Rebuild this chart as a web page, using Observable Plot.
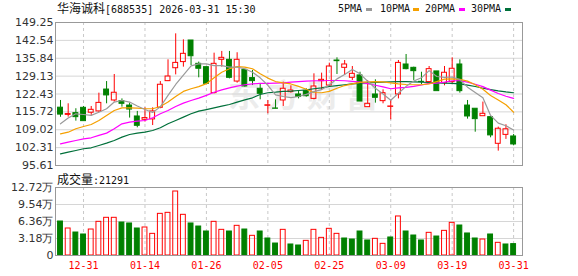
<!DOCTYPE html>
<html><head><meta charset="utf-8">
<script src="https://cdn.jsdelivr.net/npm/d3@7"></script>
<script src="https://cdn.jsdelivr.net/npm/@observablehq/plot@0.6"></script>
<style>
body{margin:0;background:#fff;}
#wrap{position:relative;width:578px;height:276px;overflow:hidden;background:#fff;}
.abs{position:absolute;white-space:nowrap;line-height:15px;color:#111;}
.mono{font-family:"DejaVu Sans Mono",monospace;font-size:10px;}
.cjk{font-family:"Noto Sans CJK SC",sans-serif;font-size:12px;}
.sw{position:absolute;width:6px;height:3px;}
</style></head><body><div id="wrap"></div>
<script>
const title = "华海诚科";
const code = "[688535] 2026-03-31 15:30";
const volLabel = "成交量";
const lastVol = "21291";
const maNames = ["5PMA","10PMA","20PMA","30PMA"];

const dates = ["12-26","12-29","12-30","12-31","01-05","01-06","01-07","01-08","01-09","01-12","01-13","01-14","01-15","01-16","01-19","01-20","01-21","01-22","01-23","01-26","01-27","01-28","01-29","01-30","02-02","02-03","02-04","02-05","02-06","02-09","02-10","02-11","02-12","02-13","02-24","02-25","02-26","02-27","03-02","03-03","03-04","03-05","03-06","03-09","03-10","03-11","03-12","03-13","03-16","03-17","03-18","03-19","03-20","03-23","03-24","03-25","03-26","03-27","03-30","03-31"];
const tickDates = ["12-31","01-14","01-26","02-05","02-25","03-09","03-19","03-31"];

const opens  = [117.3,114.6,115.25,117.25,115.4,115.9,124.1,120.0,119.75,118.1,114.0,112.75,112.9,117.25,127.25,132.1,134.4,142.5,133.75,132.5,122.75,135.25,135.25,127.1,131.5,128.4,124.4,118.0,117.0,120.0,123.1,122.25,123.5,120.6,127.25,125.6,135.0,132.25,128.5,129.4,117.5,122.25,119.75,117.6,122.25,133.5,132.25,127.0,126.9,130.9,126.5,126.9,133.5,118.1,116.9,114.1,113.75,103.75,107.1,106.5];
const highs  = [120.0,118.75,116.9,117.75,117.75,122.75,127.1,129.75,120.6,119.0,115.9,117.25,117.25,127.1,135.25,145.0,142.75,142.5,134.4,132.5,137.75,138.4,138.4,137.9,131.5,131.25,126.0,120.0,120.25,126.9,125.5,123.75,124.4,130.0,130.25,134.0,136.0,135.0,132.75,130.6,127.5,127.75,124.0,120.0,135.0,137.25,132.5,130.6,132.75,130.9,132.75,136.0,135.25,120.0,116.9,119.4,113.75,110.0,110.9,107.25];
const lows   = [113.7,113.75,112.25,112.25,114.4,115.6,118.75,119.4,117.5,113.4,109.75,111.9,110.6,116.9,127.1,129.6,132.5,133.1,128.5,126.0,122.5,132.5,128.1,126.5,125.0,125.6,120.25,115.0,116.8,117.75,122.75,120.6,121.25,120.25,123.75,125.25,129.75,129.4,127.5,119.6,117.5,119.0,118.75,112.75,120.6,131.5,127.5,126.0,126.25,123.5,125.5,126.25,122.75,113.0,108.1,114.1,106.0,101.0,105.4,103.0];
const closes = [114.7,114.9,113.75,112.25,116.5,119.1,121.9,122.9,118.75,116.6,110.5,113.4,115.9,125.9,129.0,134.1,137.5,136.6,131.9,126.25,133.75,136.0,128.5,135.25,125.25,127.25,122.5,118.2,116.9,124.4,123.75,121.3,121.6,125.25,127.75,132.75,134.75,133.5,130.0,119.6,118.75,121.0,122.75,117.75,134.1,131.75,131.0,126.9,131.75,123.5,130.4,131.9,123.5,114.0,113.0,115.0,106.9,109.4,109.2,103.5];
const volumes = [63600,50500,43000,39300,48600,63000,70500,70500,61700,59900,50500,52400,40500,77900,79800,119700,76100,59900,54200,44900,63000,48000,44900,55500,48600,36800,44900,31800,22400,48000,20600,18700,27400,48000,33000,49900,40500,31800,29900,44900,28100,31200,21800,33700,73000,44900,37400,28100,42400,35500,46100,61100,56100,41200,31800,29900,39300,23700,20600,21291];

const ma5  = [111.25,113.4,115.0,114.75,114.4,115.6,116.9,119.4,120.0,119.4,117.9,116.6,115.5,117.6,121.9,126.0,129.5,133.0,133.75,133.75,133.1,133.1,132.5,132.5,131.9,130.6,128.5,125.7,122.1,121.5,121.1,121.5,122.3,123.3,124.1,125.8,128.1,129.75,131.6,130.0,127.2,124.6,122.4,120.1,122.7,125.3,127.3,128.5,131.2,129.0,128.7,128.8,127.8,125.0,123.0,121.0,114.4,111.5,110.5,108.9];
const ma10 = [107.5,108.1,109.4,110.25,111.0,112.5,114.4,116.25,117.25,117.25,117.1,116.9,116.9,117.75,119.4,121.5,123.4,124.4,125.2,126.3,128.5,130.6,131.9,132.7,132.5,131.9,130.0,128.4,127.1,126.6,126.2,125.3,124.2,123.0,122.9,123.4,124.6,125.6,126.25,126.8,127.0,127.1,127.0,126.6,126.25,126.0,125.9,125.9,126.25,127.1,128.0,128.1,127.9,127.25,125.9,124.2,121.9,120.2,118.4,115.6];
const ma20 = [103.75,104.4,105.0,105.6,106.0,106.9,107.75,109.4,111.25,111.9,112.25,112.5,113.5,115.0,116.25,117.75,119.0,120.0,120.9,121.9,123.1,124.0,124.75,125.4,125.9,126.25,126.4,126.4,126.5,126.6,126.9,127.1,127.25,127.4,127.4,127.5,127.5,127.4,127.2,126.9,126.3,125.7,125.1,124.4,124.7,124.9,125.3,125.8,126.4,126.5,126.9,127.4,127.4,126.9,126.1,125.2,123.9,122.6,121.6,120.8];
const ma30 = [100.0,100.6,101.25,101.9,102.25,103.1,104.0,105.0,106.25,107.25,107.75,108.1,108.75,109.75,111.25,112.5,113.75,115.0,116.0,116.6,117.25,117.9,118.5,119.4,120.25,121.0,122.25,122.9,123.1,123.4,123.5,123.75,124.0,124.4,124.75,125.25,125.6,125.9,126.25,126.5,126.6,126.75,126.9,127.0,127.1,127.1,127.0,126.9,126.75,126.6,126.5,126.4,126.25,125.75,125.25,124.6,124.1,123.6,123.2,122.9];

const priceTicks = [149.25,142.54,135.84,129.13,122.43,115.72,109.02,102.31,95.61];
const volTicks = [0,31800,63600,95400,127200];
const volTickLabels = ["0","3.18万","6.36万","9.54万","12.72万"];

const RED = "#ff0000", GREEN = "#008000";
const maColors = ["#9a9a9a","#f5a000","#ff00ff","#00703a"];

const rows = dates.map((d,i)=>({
  date:d, open:opens[i], high:highs[i], low:lows[i], close:closes[i], vol:volumes[i],
  up: closes[i] >= opens[i],
  volUp: i > 0 && closes[i] > closes[i-1],
  bodyLo: Math.min(opens[i],closes[i]), bodyHi: Math.max(opens[i],closes[i]),
  ma5:ma5[i], ma10:ma10[i], ma20:ma20[i], ma30:ma30[i]
}));

const xScale = {type:"band", domain:dates, range:[56.16,516.96], padding:0, axis:null};
const baseStyle = {fontFamily:"DejaVu Sans", fontSize:"11px", background:"transparent", color:"#222", overflow:"visible"};

const price = Plot.plot({
  width:578, height:170, marginLeft:55, marginRight:56, marginTop:22, marginBottom:5,
  x: xScale,
  y: {domain:[95.61,149.25], axis:null},
  style: baseStyle,
  marks: [
    Plot.text(["东 方 财 富"], {frameAnchor:"middle", dx:14, dy:3, fontSize:32, fontWeight:"bold", fill:"#ececec", fontFamily:"Noto Sans CJK SC"}),
    Plot.ruleY(priceTicks.slice(1,-1), {stroke:"#d6d6d6"}),
    Plot.ruleX(tickDates, {stroke:"#c8c8c8", strokeDasharray:"3,3"}),
    Plot.ruleX(rows, {x:"date", y1:"low", y2:"bodyLo", stroke:d=>d.up?RED:GREEN}),
    Plot.ruleX(rows, {x:"date", y1:"bodyHi", y2:"high", stroke:d=>d.up?RED:GREEN}),
    Plot.barY(rows, {x:"date", y1:"bodyLo", y2:"bodyHi", fill:d=>d.up?"none":GREEN, stroke:d=>d.up?RED:GREEN, insetLeft:1.4, insetRight:1.4}),
    Plot.line(rows, {x:"date", y:"ma30", stroke:maColors[3], strokeWidth:1.2}),
    Plot.line(rows, {x:"date", y:"ma20", stroke:maColors[2], strokeWidth:1.2}),
    Plot.line(rows, {x:"date", y:"ma10", stroke:maColors[1], strokeWidth:1.2}),
    Plot.line(rows, {x:"date", y:"ma5", stroke:maColors[0], strokeWidth:1.2}),
    Plot.axisY(priceTicks, {label:null, tickSize:0, tickPadding:2, tickFormat:d=>d.toFixed(2), fontSize:11, fontFamily:"DejaVu Sans", fill:"#333"}),
    Plot.frame({stroke:"#999"})
  ]
});

const vol = Plot.plot({
  width:578, height:106, marginLeft:55, marginRight:56, marginTop:17, marginBottom:21,
  x: xScale,
  y: {domain:[0,127200], axis:null},
  style: baseStyle,
  marks: [
    Plot.ruleY(volTicks.slice(1,-1), {stroke:"#d6d6d6"}),
    Plot.ruleX(tickDates, {stroke:"#c8c8c8", strokeDasharray:"3,3"}),
    Plot.barY(rows, {x:"date", y:"vol", fill:d=>d.volUp?"none":GREEN, stroke:d=>d.volUp?RED:GREEN, insetLeft:1.4, insetRight:1.4}),
    Plot.axisY(volTicks, {label:null, tickSize:0, tickPadding:2, tickFormat:d=>volTickLabels[volTicks.indexOf(d)], fontSize:11, fontFamily:"DejaVu Sans", fill:"#333"}),
    Plot.axisX(tickDates, {label:null, tickSize:0, tickPadding:6, fill:RED, fontSize:10, fontFamily:"DejaVu Sans Mono"}),
    Plot.frame({stroke:"#999"})
  ]
});

const wrap = document.getElementById("wrap");
price.style.position = "absolute"; price.style.left = "0px"; price.style.top = "0px";
vol.style.position = "absolute"; vol.style.left = "0px"; vol.style.top = "170px";
wrap.appendChild(price);
wrap.appendChild(vol);

function addDiv(html, left, top, cls){
  const el = document.createElement("div");
  el.className = "abs" + (cls ? " " + cls : "");
  el.style.left = left + "px"; el.style.top = top + "px";
  el.innerHTML = html;
  wrap.appendChild(el);
  return el;
}
addDiv(`<span class="cjk">${title}</span><span class="mono">${code}</span>`, 57, 0);
const legendX = [338, 380, 425, 471];
const swatchX = [366, 413, 459, 505];
maNames.forEach((n,i)=>{
  addDiv(n, legendX[i], 1, "mono");
  const s = document.createElement("div");
  s.className = "sw"; s.style.left = swatchX[i] + "px"; s.style.top = "8px"; s.style.background = maColors[i];
  wrap.appendChild(s);
});
addDiv(`<span class="cjk">${volLabel}</span><span class="mono">:${lastVol}</span>`, 57, 171);
</script></body></html>
